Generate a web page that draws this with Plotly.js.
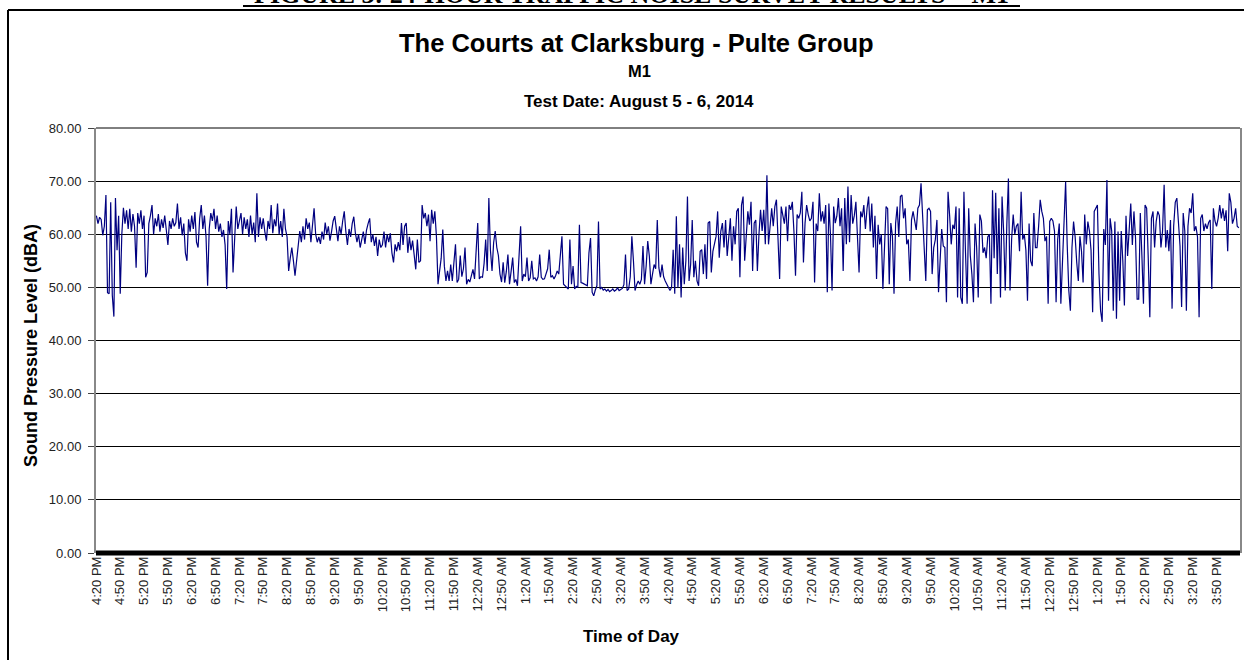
<!DOCTYPE html>
<html><head><meta charset="utf-8">
<script src="https://cdn.plot.ly/plotly-3.0.1.min.js"></script>
<style>html,body{margin:0;padding:0;background:#fff}#chart{width:1244px;height:660px}</style>
</head><body><div id="chart"></div>
<script>
// Readings every 2 minutes starting 4:20 PM (minute 0)
const sampleStepMinutes = 2;
const levels = [
63.5,62.0,63.2,62.8,59.8,61.5,67.4,49.0,48.8,66.0,48.5,44.5,66.8,57.0,63.5,
48.8,60.0,65.0,62.0,64.5,61.0,64.8,60.5,63.8,61.5,53.7,64.0,62.0,64.5,61.0,
63.5,51.9,52.8,62.0,63.5,65.5,60.0,63.0,61.5,63.8,60.5,62.8,61.2,63.5,60.8,
58.0,62.5,61.0,63.0,61.5,62.2,65.8,61.0,63.2,59.8,62.0,56.5,55.0,62.8,60.5,
63.5,61.0,64.2,58.5,57.5,63.0,65.5,61.0,63.5,59.5,50.3,61.0,64.0,62.5,64.8,
61.0,63.5,60.5,62.0,59.5,60.8,58.0,49.7,62.5,60.0,64.8,52.8,59.0,65.2,61.0,
62.5,64.0,60.0,63.2,61.0,62.8,59.5,63.5,60.0,62.2,58.5,67.7,59.5,63.2,61.0,
63.0,60.5,58.8,62.5,61.0,65.5,60.2,62.8,61.5,65.8,60.0,62.5,59.5,64.8,61.0,
59.5,53.1,55.5,57.5,55.0,52.2,55.0,58.5,60.6,58.5,61.5,59.0,63.0,61.0,62.2,
58.5,62.0,64.9,60.0,58.5,59.5,58.2,60.5,59.0,62.2,60.0,61.5,58.8,60.5,62.5,
63.4,60.5,58.7,61.5,60.0,62.5,64.3,60.5,58.0,61.0,59.5,62.0,63.3,60.2,58.5,
60.0,57.5,59.0,60.5,58.2,60.8,62.0,63.0,58.5,60.0,57.8,59.5,55.9,59.0,57.5,
58.0,60.5,57.5,60.0,58.5,60.2,56.5,54.7,58.1,56.8,58.5,57.0,62.1,58.0,61.5,
62.1,56.5,59.5,57.0,58.8,56.5,53.4,59.0,54.7,55.0,65.5,63.0,64.0,61.5,63.7,
58.7,64.6,62.0,64.3,59.6,50.6,53.1,55.5,60.9,54.0,51.2,53.1,51.2,54.3,51.2,
55.0,58.1,50.9,51.5,56.0,52.0,53.5,57.5,50.6,51.5,51.0,52.0,53.4,51.6,58.0,
62.1,51.6,52.0,51.9,54.5,59.0,53.1,66.8,57.0,53.1,58.4,60.6,57.5,56.0,52.5,
51.0,54.7,50.9,53.0,56.2,50.6,53.0,55.6,50.9,51.5,50.3,57.1,61.5,51.2,52.5,
52.0,55.6,51.2,51.8,55.0,51.6,51.8,51.2,52.0,56.2,51.9,51.5,51.6,52.8,53.5,
57.1,51.9,52.2,51.6,52.2,53.1,52.5,55.6,59.6,50.6,50.3,50.0,49.7,59.0,50.6,
54.0,49.7,50.2,50.0,61.8,50.9,50.8,50.6,50.5,50.3,56.5,59.3,49.1,48.4,49.5,
50.3,62.4,49.7,50.0,49.5,49.7,49.3,49.6,49.2,49.4,49.7,49.3,49.5,49.9,49.4,
49.6,49.8,50.5,56.2,49.4,49.7,52.0,59.6,55.0,49.4,50.5,51.2,50.6,51.5,57.8,
50.6,54.0,58.7,55.9,50.6,52.5,54.3,53.5,62.7,53.7,51.9,54.3,52.0,51.2,50.6,
49.7,49.4,50.0,57.1,48.8,63.4,50.0,58.1,48.1,57.5,50.6,55.0,67.1,51.2,54.3,
62.7,51.9,55.0,51.2,50.3,56.8,57.1,52.5,58.1,51.6,62.1,62.4,52.8,56.8,58.5,
59.6,64.3,55.6,60.6,62.1,57.5,62.7,55.9,59.0,63.0,55.0,61.5,58.1,64.3,64.9,
51.9,65.5,67.1,55.0,59.6,64.3,61.8,66.1,53.1,62.1,62.7,53.1,60.0,64.6,60.6,
64.6,58.1,71.1,58.1,62.4,64.9,61.5,65.2,66.5,58.1,51.6,65.2,63.7,62.0,65.2,
58.7,65.5,64.6,66.1,60.6,52.2,63.7,63.0,64.0,68.0,54.7,62.1,65.5,63.7,62.5,
63.0,66.1,50.9,62.0,60.6,67.7,62.4,64.3,62.0,65.5,49.1,65.8,60.0,49.4,65.2,
62.1,63.4,66.8,61.5,64.9,53.1,66.8,58.1,69.0,58.5,67.4,62.0,63.5,66.1,60.6,
52.8,64.3,63.2,65.5,61.0,64.8,67.1,60.5,65.8,57.5,63.5,51.6,61.8,58.1,60.0,
49.7,57.5,65.2,64.8,50.6,62.1,59.6,48.8,62.1,65.2,59.5,67.1,67.4,63.0,64.9,
58.1,59.0,51.2,62.7,64.3,62.0,60.8,64.9,65.5,69.6,63.0,58.0,51.2,64.6,64.9,
64.3,52.5,57.5,59.0,62.7,49.1,55.0,61.0,57.8,57.5,47.2,68.0,63.5,58.1,61.8,
61.0,65.2,48.1,64.9,48.1,46.9,68.0,56.5,46.9,64.9,56.0,52.5,47.2,62.0,57.5,
48.1,63.7,62.5,56.5,57.5,55.5,59.5,60.0,46.9,68.3,55.5,67.8,52.5,64.9,48.1,
67.1,60.5,49.4,62.0,70.5,49.4,59.0,63.7,60.0,61.5,62.0,56.8,68.0,59.0,60.0,
57.0,47.5,62.0,55.0,54.0,64.0,57.5,57.5,61.5,66.5,64.3,63.0,58.7,59.6,46.9,
62.4,63.0,62.5,60.6,47.2,59.0,62.0,46.9,55.0,63.0,69.9,58.0,49.4,45.6,57.5,
62.4,59.5,54.7,51.2,59.6,56.8,50.9,63.7,58.1,62.4,60.6,57.0,45.3,64.3,64.9,
65.5,52.5,45.6,43.5,61.0,58.0,70.2,47.5,63.0,60.6,45.6,62.4,44.1,60.5,47.5,
60.6,55.0,46.6,63.5,55.9,61.8,65.8,58.0,64.3,59.3,47.8,47.8,64.0,56.0,46.9,
65.5,64.9,55.5,44.4,63.0,64.3,57.5,62.4,64.3,63.5,57.5,60.6,69.3,57.5,60.8,
56.8,62.7,46.0,61.5,66.0,66.8,61.0,57.8,46.3,64.0,60.6,45.6,61.5,64.9,64.0,
67.7,60.6,61.5,59.5,44.4,63.0,63.7,60.6,62.0,61.0,62.2,62.7,49.7,64.9,62.5,
61.5,63.0,65.5,63.0,64.9,62.5,64.5,56.8,67.7,66.0,62.0,63.0,64.9,61.5,61.2
];
const tickMinutes = [0,30,60,90,120,150,180,210,240,270,300,330,360,390,420,450,480,510,540,570,600,630,660,690,720,750,780,810,840,870,900,930,960,990,1020,1050,1080,1110,1140,1170,1200,1230,1260,1290,1320,1350,1380,1410];
const tickLabels = ["4:20 PM","4:50 PM","5:20 PM","5:50 PM","6:20 PM","6:50 PM","7:20 PM","7:50 PM","8:20 PM","8:50 PM","9:20 PM","9:50 PM","10:20 PM","10:50 PM","11:20 PM","11:50 PM","12:20 AM","12:50 AM","1:20 AM","1:50 AM","2:20 AM","2:50 AM","3:20 AM","3:50 AM","4:20 AM","4:50 AM","5:20 AM","5:50 AM","6:20 AM","6:50 AM","7:20 AM","7:50 AM","8:20 AM","8:50 AM","9:20 AM","9:50 AM","10:20 AM","10:50 AM","11:20 AM","11:50 AM","12:20 PM","12:50 PM","1:20 PM","1:50 PM","2:20 PM","2:50 PM","3:20 PM","3:50 PM"];
const yTickValues = [0,10,20,30,40,50,60,70,80];
const yTickLabels = ["0.00","10.00","20.00","30.00","40.00","50.00","60.00","70.00","80.00"];

const pageCaption = "FIGURE 3: 24-HOUR TRAFFIC NOISE SURVEY RESULTS – M1";
const chartTitle = "The Courts at Clarksburg - Pulte Group";
const chartSub1 = "M1";
const chartSub2 = "Test Date: August 5 - 6, 2014";
const yTitle = "Sound Pressure Level (dBA)";
const xTitle = "Time of Day";

const minutes = levels.map((_, i) => i * sampleStepMinutes);

// pixel helpers for placing decorations (plot area: x 96..1240, y 128..553)
const L = 96, R = 1240, T = 128, B = 553;
const px = p => (p - L) / (R - L);
const py = p => (B - p) / (B - T);
const SANS = 'Liberation Sans, Arial, sans-serif';

const trace = {
  x: minutes, y: levels, type: 'scatter', mode: 'lines',
  line: {color: '#000080', width: 1.2}, hoverinfo: 'skip'
};

const layout = {
  width: 1244, height: 660,
  margin: {l: L, r: 1244 - R, t: T, b: 660 - B, pad: 0},
  paper_bgcolor: '#fff', plot_bgcolor: '#fff',
  showlegend: false,
  font: {family: SANS, color: '#000'},
  xaxis: {
    range: [-0.5, 1439.5], tickmode: 'array', tickvals: tickMinutes, ticktext: tickLabels,
    tickangle: -90, tickfont: {family: SANS, size: 13, color: '#222'},
    showgrid: false, zeroline: false, showline: false, ticks: '', fixedrange: true
  },
  yaxis: {
    range: [0, 80], tickmode: 'array', tickvals: yTickValues, ticktext: yTickLabels,
    tickfont: {family: SANS, size: 13, color: '#222'},
    showgrid: true, gridcolor: '#000', gridwidth: 1,
    showline: true, mirror: true, linecolor: '#888', linewidth: 2,
    ticks: 'outside', ticklen: 6, tickcolor: '#444', tickwidth: 1,
    ticklabelstandoff: 4, zeroline: false, fixedrange: true
  },
  shapes: [
    {type: 'line', xref: 'paper', yref: 'paper', x0: 0, x1: 1, y0: 1, y1: 1, line: {color: '#000', width: 1}},
    {type: 'line', xref: 'paper', yref: 'paper', x0: 0, x1: 1, y0: 0, y1: 0, line: {color: '#000', width: 5}},
    {type: 'line', xref: 'paper', yref: 'paper', x0: px(8), x1: px(1250), y0: py(10), y1: py(10), line: {color: '#000', width: 2}},
    {type: 'line', xref: 'paper', yref: 'paper', x0: px(8), x1: px(8), y0: py(10), y1: py(665), line: {color: '#000', width: 2}},
    {type: 'line', xref: 'paper', yref: 'paper', x0: px(243), x1: px(1020), y0: py(6), y1: py(6), line: {color: '#000', width: 2}}
  ],
  annotations: [
    {text: '<b>' + pageCaption + '</b>', xref: 'paper', yref: 'paper', x: px(631), y: py(11), xanchor: 'center', yanchor: 'bottom', showarrow: false,
     font: {family: 'Liberation Serif, Times New Roman, serif', size: 26, color: '#000'}},
    {text: '<b>' + chartTitle + '</b>', xref: 'paper', yref: 'paper', x: px(636), y: py(43), xanchor: 'center', yanchor: 'middle', showarrow: false,
     font: {family: SANS, size: 25.5, color: '#000'}},
    {text: '<b>' + chartSub1 + '</b>', xref: 'paper', yref: 'paper', x: px(639), y: py(71), xanchor: 'center', yanchor: 'middle', showarrow: false,
     font: {family: SANS, size: 16.5, color: '#000'}},
    {text: '<b>' + chartSub2 + '</b>', xref: 'paper', yref: 'paper', x: px(639), y: py(101), xanchor: 'center', yanchor: 'middle', showarrow: false,
     font: {family: SANS, size: 17, color: '#000'}},
    {text: '<b>' + yTitle + '</b>', xref: 'paper', yref: 'paper', x: px(31), y: py(346), xanchor: 'center', yanchor: 'middle', textangle: -90, showarrow: false,
     font: {family: SANS, size: 18, color: '#000'}},
    {text: '<b>' + xTitle + '</b>', xref: 'paper', yref: 'paper', x: px(631), y: py(636), xanchor: 'center', yanchor: 'middle', showarrow: false,
     font: {family: SANS, size: 17, color: '#000'}}
  ]
};

Plotly.newPlot('chart', [trace], layout, {displayModeBar: false, staticPlot: true});
</script></body></html>
